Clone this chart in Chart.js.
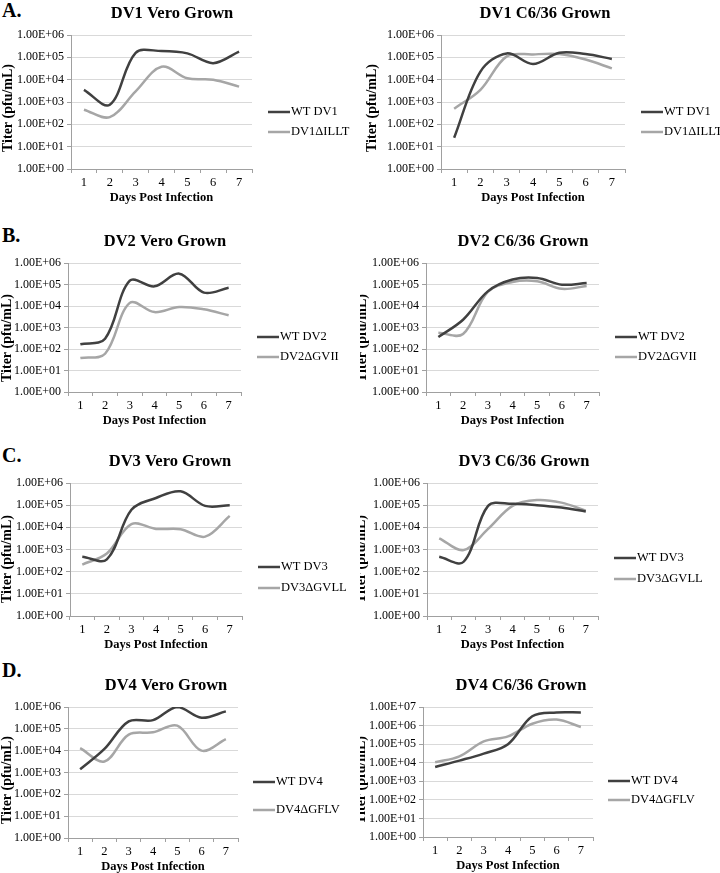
<!DOCTYPE html>
<html>
<head>
<meta charset="utf-8">
<script src="https://cdn.jsdelivr.net/npm/chart.js@4.4.0/dist/chart.umd.min.js"></script>
<style>
  body { margin: 0; background: #fff; width: 720px; height: 873px; position: relative; overflow: hidden; }
  canvas { position: absolute; }
  .letter { position: absolute; left: 2px; font: bold 20px "Liberation Serif", serif; line-height: 20px; color: #000; }
</style>
</head>
<body>
<div class="letter" style="top:0px">A.</div>
<div class="letter" style="top:225px">B.</div>
<div class="letter" style="top:445px">C.</div>
<div class="letter" style="top:660px">D.</div>
<script>
const days = ['1', '2', '3', '4', '5', '6', '7'];

// titers (pfu/mL)
const dv1VeroWT   = [3.5e3, 7.5e2, 1.6e5, 1.9e5, 1.5e5, 5.5e4, 1.8e5];
const dv1VeroMut  = [4.5e2, 2.1e2, 3.0e3, 3.8e4, 1.15e4, 1.0e4, 4.9e3];
const dv1C636WT   = [2.5e1, 2.3e4, 1.5e5, 5.0e4, 1.6e5, 1.4e5, 8.5e4];
const dv1C636Mut  = [5.0e2, 3.5e3, 1.1e5, 1.35e5, 1.4e5, 8.0e4, 3.2e4];
const dv2VeroWT   = [1.65e2, 3.0e2, 1.5e5, 8.2e4, 3.2e5, 4.2e4, 7.0e4];
const dv2VeroMut  = [3.8e1, 6.0e1, 1.4e4, 5.2e3, 9.0e3, 7.0e3, 3.7e3];
const dv2C636WT   = [3.6e2, 2.3e3, 4.8e4, 1.7e5, 2.0e5, 9.8e4, 1.17e5];
const dv2C636Mut  = [5.7e2, 5.0e2, 4.5e4, 1.3e5, 1.4e5, 6.3e4, 8.5e4];
const dv3VeroWT   = [4.7e2, 3.6e2, 6.2e4, 2.1e5, 4.2e5, 9.3e4, 1.0e5];
const dv3VeroMut  = [2.1e2, 6.6e2, 1.4e4, 8.5e3, 8.2e3, 3.8e3, 3.3e4];
const dv3C636WT   = [4.7e2, 2.8e2, 9.3e4, 1.15e5, 1.0e5, 7.8e4, 5.2e4];
const dv3C636Mut  = [3.2e3, 9.5e2, 8.5e3, 9.3e4, 1.7e5, 1.3e5, 5.7e4];
const dv4VeroWT   = [1.4e3, 1.2e4, 2.2e5, 2.5e5, 1.0e6, 3.2e5, 6.3e5];
const dv4VeroMut  = [1.3e4, 3.2e3, 5.4e4, 6.9e4, 1.4e5, 1.0e4, 3.4e4];
const dv4C636WT   = [5.9e3, 1.3e4, 3.1e4, 1.0e5, 3.2e6, 5.1e6, 5.1e6];
const dv4C636Mut  = [1.05e4, 2.2e4, 1.4e5, 2.6e5, 1.26e6, 2.1e6, 8.4e5];

const decadesTo6 = [0, 1, 2, 3, 4, 5, 6];
const decadesTo7 = [0, 1, 2, 3, 4, 5, 6, 7];

const wtColor = '#404040';
const mutColor = '#a6a6a6';
const gridColor = '#d9d9d9';
const axisColor = '#a0a0a0';
const serif = '"Liberation Serif", "Times New Roman", serif';

// geometry in page pixels
const panels = [
  { title: 'DV1 Vero Grown', names: ['WT DV1', 'DV1\u0394ILLT'], wt: dv1VeroWT, mut: dv1VeroMut, dec: decadesTo6,
    x0: 0, y0: 0, area: [71, 35, 252, 169], titleX: 172, titleY: 14, legX: 268, legY: [112, 132], yt: [8, 108] },
  { title: 'DV1 C6/36 Grown', names: ['WT DV1', 'DV1\u0394ILLT'], wt: dv1C636WT, mut: dv1C636Mut, dec: decadesTo6,
    x0: 360, y0: 0, area: [441, 35, 625, 169], titleX: 545, titleY: 14, legX: 641, legY: [112, 132], yt: [372, 108] },
  { title: 'DV2 Vero Grown', names: ['WT DV2', 'DV2\u0394GVII'], wt: dv2VeroWT, mut: dv2VeroMut, dec: decadesTo6,
    x0: 0, y0: 215, area: [68, 263, 241, 392], titleX: 165, titleY: 242, legX: 257, legY: [337, 357], yt: [7, 338] },
  { title: 'DV2 C6/36 Grown', names: ['WT DV2', 'DV2\u0394GVII'], wt: dv2C636WT, mut: dv2C636Mut, dec: decadesTo6,
    x0: 360, y0: 215, area: [426, 263, 599, 392], titleX: 523, titleY: 242, legX: 615, legY: [337, 357], yt: [362, 338] },
  { title: 'DV3 Vero Grown', names: ['WT DV3', 'DV3\u0394GVLL'], wt: dv3VeroWT, mut: dv3VeroMut, dec: decadesTo6,
    x0: 0, y0: 430, area: [70, 483, 242, 616], titleX: 170, titleY: 462, legX: 258, legY: [567, 588], yt: [7, 559] },
  { title: 'DV3 C6/36 Grown', names: ['WT DV3', 'DV3\u0394GVLL'], wt: dv3C636WT, mut: dv3C636Mut, dec: decadesTo6,
    x0: 360, y0: 430, area: [427, 483, 598, 616], titleX: 524, titleY: 462, legX: 614, legY: [558, 579], yt: [361, 559] },
  { title: 'DV4 Vero Grown', names: ['WT DV4', 'DV4\u0394GFLV'], wt: dv4VeroWT, mut: dv4VeroMut, dec: decadesTo6,
    x0: 0, y0: 650, area: [68, 707, 238, 838], titleX: 166, titleY: 686, legX: 253, legY: [782, 810], yt: [7, 780] },
  { title: 'DV4 C6/36 Grown', names: ['WT DV4', 'DV4\u0394GFLV'], wt: dv4C636WT, mut: dv4C636Mut, dec: decadesTo7,
    x0: 360, y0: 650, area: [423, 707, 593, 837], titleX: 521, titleY: 686, legX: 608, legY: [781, 800], yt: [361, 780] }
];

function sciLabel(v) {
  const e = Math.round(Math.log10(v));
  return '1.00E+' + String(e).padStart(2, '0');
}

// title, legend and y axis title drawn at fixed spots
const decor = {
  id: 'decor',
  afterDraw(chart, args, o) {
    const ctx = chart.ctx;
    ctx.save();
    ctx.fillStyle = '#000';
    ctx.textBaseline = 'middle';
    ctx.textAlign = 'center';
    ctx.font = 'bold 16.5px ' + serif;
    ctx.fillText(o.title, o.titleX, o.titleY);

    ctx.save();
    ctx.translate(o.ytX, o.ytY);
    ctx.rotate(-Math.PI / 2);
    ctx.font = 'bold 14px ' + serif;
    ctx.fillText('Titer (pfu/mL)', 0, 0);
    ctx.restore();

    ctx.textAlign = 'left';
    ctx.font = '12.5px ' + serif;
    chart.data.datasets.forEach(function(ds, i) {
      const y = o.legY[i];
      ctx.strokeStyle = ds.borderColor;
      ctx.lineWidth = 2.5;
      ctx.beginPath();
      ctx.moveTo(o.legX, y);
      ctx.lineTo(o.legX + 22, y);
      ctx.stroke();
      ctx.fillText(ds.label, o.legX + 23, y);
    });
    ctx.restore();
  }
};

panels.forEach(function(p) {
  const [l, t, r, b] = p.area;
  const w = 360;
  const h = b - p.y0 + 42;
  const cv = document.createElement('canvas');
  cv.width = w;
  cv.height = h;
  cv.style.left = p.x0 + 'px';
  cv.style.top = p.y0 + 'px';
  cv.style.width = w + 'px';
  cv.style.height = h + 'px';
  document.body.appendChild(cv);

  new Chart(cv, {
    type: 'line',
    data: {
      labels: days,
      datasets: [
        { label: p.names[0], data: p.wt, borderColor: wtColor, borderWidth: 2.5, pointRadius: 0, tension: 0.35, fill: false },
        { label: p.names[1], data: p.mut, borderColor: mutColor, borderWidth: 2.5, pointRadius: 0, tension: 0.35, fill: false }
      ]
    },
    options: {
      responsive: false,
      animation: false,
      events: [],
      layout: { padding: { left: 0, top: t - p.y0, right: p.x0 + w - r, bottom: 2 } },
      plugins: {
        legend: { display: false },
        tooltip: { enabled: false },
        decor: {
          title: p.title,
          titleX: p.titleX - p.x0, titleY: p.titleY - p.y0,
          legX: p.legX - p.x0, legY: p.legY.map(function(y) { return y - p.y0; }),
          ytX: p.yt[0] - p.x0, ytY: p.yt[1] - p.y0
        }
      },
      scales: {
        x: {
          type: 'category',
          offset: true,
          afterFit: function(s) { s.height = 40; },
          grid: { offset: true, drawOnChartArea: false, drawTicks: true, tickLength: 4, color: axisColor },
          border: { display: true, color: axisColor },
          ticks: { color: '#000', font: { family: serif, size: 12.5 }, padding: 2, maxRotation: 0, autoSkip: false },
          title: { display: true, text: 'Days Post Infection', color: '#000', font: { family: serif, size: 12.5, weight: 'bold' }, padding: { top: 0, bottom: 3.5 } }
        },
        y: {
          type: 'logarithmic',
          min: 1,
          max: Math.pow(10, p.dec[p.dec.length - 1]),
          afterFit: function(s) { s.width = l - p.x0; },
          afterBuildTicks: function(s) { s.ticks = p.dec.map(function(e) { return { value: Math.pow(10, e) }; }); },
          grid: { color: gridColor, drawTicks: true, tickLength: 4, tickColor: axisColor },
          border: { display: true, color: axisColor },
          ticks: { color: '#000', font: { family: serif, size: 12 }, padding: 3, callback: function(v) { return sciLabel(v); } }
        }
      }
    },
    plugins: [decor]
  });
});
</script>
</body>
</html>
